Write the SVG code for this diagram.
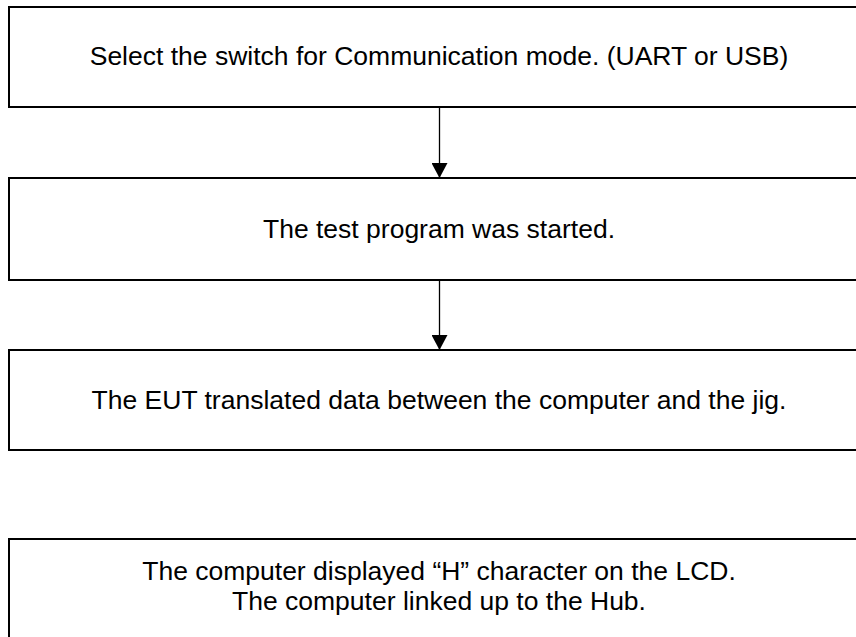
<svg xmlns="http://www.w3.org/2000/svg" width="856" height="637" viewBox="0 0 856 637">
  <style>
    .box { fill: #ffffff; stroke: #000000; stroke-width: 2; }
    .lbl { font-family: "Liberation Sans", Arial, sans-serif; font-size: 26.5px; fill: #000000; text-anchor: middle; }
    .conn { stroke: #000000; stroke-width: 1.3; fill: none; }
  </style>
  <defs>
    <marker id="arrow" markerUnits="userSpaceOnUse" markerWidth="16" markerHeight="16" refX="15" refY="8" orient="auto">
      <path d="M0,0 L15,8 L0,16 Z" fill="#000000"/>
    </marker>
  </defs>
  <rect width="856" height="637" fill="#ffffff"/>
  <g id="node1">
    <rect class="box" x="9" y="7" width="870" height="100"/>
    <text class="lbl" x="439" y="65">Select the switch for Communication mode. (UART or USB)</text>
  </g>
  <g id="node2">
    <rect class="box" x="9" y="178" width="870" height="102"/>
    <text class="lbl" x="439" y="238">The test program was started.</text>
  </g>
  <g id="node3">
    <rect class="box" x="9" y="350" width="870" height="100"/>
    <text class="lbl" x="439" y="409">The EUT translated data between the computer and the jig.</text>
  </g>
  <g id="node4">
    <rect class="box" x="9" y="539" width="870" height="120"/>
    <text class="lbl" x="439" y="580">The computer displayed “H” character on the LCD.</text>
    <text class="lbl" x="439" y="610">The computer linked up to the Hub.</text>
  </g>
  <g id="connectors">
    <line class="conn" x1="439.5" y1="107" x2="439.5" y2="178" marker-end="url(#arrow)"/>
    <line class="conn" x1="439.5" y1="280" x2="439.5" y2="350" marker-end="url(#arrow)"/>
  </g>
</svg>
